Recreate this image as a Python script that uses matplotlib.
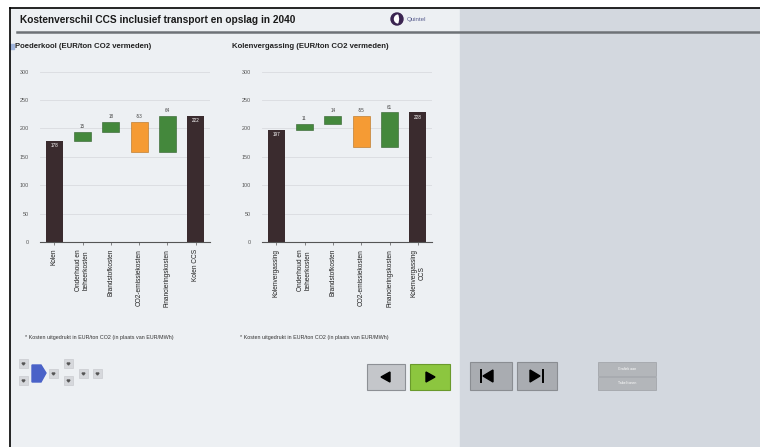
import numpy as np
import matplotlib.pyplot as plt
from matplotlib.patches import Rectangle, Polygon, Circle, Wedge

W, H = 760, 447

# chart data (EUR/ton CO2 vermeden)
pk_cats = ['Kolen', 'Onderhoud en\nbeheerkosten', 'Brandstofkosten',
           'CO2-emissiekosten', 'Financieringskosten', 'Kolen CCS']
pk_start = 178
pk_steps = [15, 18, -53, 64]

kv_cats = ['Kolenvergassing', 'Onderhoud en\nbeheerkosten', 'Brandstofkosten',
           'CO2-emissiekosten', 'Financieringskosten', 'Kolenvergassing\nCCS']
kv_start = 197
kv_steps = [11, 14, -55, 61]

y_ticks = [0, 50, 100, 150, 200, 250, 300]

title = 'Kostenverschil CCS inclusief transport en opslag in 2040'
sub_left = 'Poederkool (EUR/ton CO2 vermeden)'
sub_right = 'Kolenvergassing (EUR/ton CO2 vermeden)'
note = '* Kosten uitgedrukt in EUR/ton CO2 (in plaats van EUR/MWh)'

plt.rcParams['font.family'] = ['Liberation Sans', 'DejaVu Sans']

dark = '#3a2b2e'
green = '#44883c'
orange = '#f59b34'
panel = '#edf0f3'
side = '#d3d8df'

fig = plt.figure(figsize=(W / 100, H / 100), dpi=100)
fig.patch.set_facecolor('white')

# background / UI frame in pixel coordinates
bg = fig.add_axes([0, 0, 1, 1])
bg.set_xlim(0, W)
bg.set_ylim(H, 0)
bg.axis('off')
bg.add_patch(Rectangle((10, 8), 450, H - 8, color=panel, zorder=0))
bg.add_patch(Rectangle((460, 8), W - 460, H - 8, color=side, zorder=0))
bg.plot([10, 10], [8, H], color='black', lw=1.2)
bg.plot([10, W], [8, 8], color='black', lw=1.2)
bg.plot([17, W], [32, 32], color='#6e7277', lw=1.8)

bg.text(20, 20, title, fontsize=7.3, fontweight='bold', va='center', color='#1a1a1a')
bg.add_patch(Circle((397, 19), 6, color='#3a2450'))
bg.add_patch(Wedge((398.5, 19), 4, 100, 260, color='white'))
bg.text(407, 19, 'Quintel', fontsize=4.5, color='#5b6090', va='center')

bg.add_patch(Rectangle((10, 44), 4, 5, color='#9fb4dc'))
bg.text(15, 46.5, sub_left, fontsize=5.6, fontweight='bold', va='center', color='#222')
bg.text(232, 46.5, sub_right, fontsize=5.6, fontweight='bold', va='center', color='#222')
bg.text(25, 338, note, fontsize=3.9, va='center', color='#333')
bg.text(240, 338, note, fontsize=3.9, va='center', color='#333')

# small navigation buttons bottom-left
for bx, by in [(19, 359), (19, 376), (49, 369), (64, 359), (64, 376), (79, 369), (93, 369)]:
    bg.add_patch(Rectangle((bx, by), 9, 9, color='#d6d8dc', ec='#c4c6ca', lw=0.4))
    bg.add_patch(Polygon([(bx + 3, by + 4), (bx + 6, by + 4), (bx + 4.5, by + 6)], color='#555'))
bg.add_patch(Polygon([(32, 365), (41, 365), (46, 373), (41, 382), (32, 382)], color='#4a62c8'))

# prev / next buttons
bg.add_patch(Rectangle((367, 364), 38, 26, color='#c4c6ca', ec='#8d9095', lw=0.8))
bg.add_patch(Polygon([(381, 377), (390, 372), (390, 382)], color='black'))
bg.add_patch(Rectangle((410, 364), 40, 26, color='#8cc63f', ec='#6a9a2c', lw=0.8))
bg.add_patch(Polygon([(426, 372), (426, 382), (435, 377)], color='black'))

# right panel buttons
bg.add_patch(Rectangle((470, 362), 42, 28, color='#a9acb1', ec='#8a8d92', lw=0.8))
bg.add_patch(Polygon([(483, 376), (493, 370), (493, 382)], color='black'))
bg.plot([481, 481], [370, 382], color='black', lw=1.4)
bg.add_patch(Rectangle((517, 362), 40, 28, color='#a9acb1', ec='#8a8d92', lw=0.8))
bg.add_patch(Polygon([(530, 370), (530, 382), (540, 376)], color='black'))
bg.plot([543, 543], [370, 382], color='black', lw=1.4)
bg.add_patch(Rectangle((598, 362), 58, 14, color='#b3b6ba', ec='#9da0a5', lw=0.5))
bg.add_patch(Rectangle((598, 377), 58, 13, color='#b3b6ba', ec='#9da0a5', lw=0.5))
bg.text(627, 369, 'Grafiek aan', fontsize=2.5, color='white', ha='center', va='center')
bg.text(627, 383.5, 'Tabel tonen', fontsize=2.5, color='white', ha='center', va='center')


def px_axes(x0, y0, x1, y1):
    return fig.add_axes([x0 / W, 1 - y1 / H, (x1 - x0) / W, (y1 - y0) / H])


def waterfall(ax, cats, start, steps):
    x = np.arange(len(cats))
    end = start + sum(steps)
    ax.set_facecolor('none')
    for s in ['top', 'right', 'left']:
        ax.spines[s].set_visible(False)
    ax.spines['bottom'].set_color('#555')
    ax.spines['bottom'].set_linewidth(0.8)
    ax.set_ylim(0, 300)
    ax.set_xlim(-0.5, len(cats) - 0.5)
    ax.set_yticks(y_ticks)
    ax.set_yticklabels([str(t) for t in y_ticks])
    ax.tick_params(axis='y', length=0, pad=8, labelsize=3.9, labelcolor='#555')
    ax.tick_params(axis='x', length=2, width=0.5, color='#555', pad=3)
    ax.grid(axis='y', color='#d9dbdf', lw=0.6)
    ax.set_axisbelow(True)
    ax.set_xticks(x)
    ax.set_xticklabels(cats, rotation=90, fontsize=4.7, color='#1e1e1e', va='top', ha='center')

    ax.bar(x[0], start, width=0.6, color=dark)
    ax.text(x[0], start - 4, str(start), color='white', ha='center', va='top', fontsize=3.3)
    level = start
    for i, d in enumerate(steps):
        c = orange if d < 0 else green
        ax.bar(x[i + 1], d, bottom=level, width=0.6, color=c,
               edgecolor='#2f5f2a' if d > 0 else '#b36d1c', lw=0.4)
        top = max(level, level + d)
        ax.text(x[i + 1], top + 5, str(d), ha='center', va='bottom', fontsize=3.3, color='#444')
        level += d
    ax.bar(x[-1], end, width=0.6, color=dark)
    ax.text(x[-1], end - 4, str(end), color='white', ha='center', va='top', fontsize=3.3)


ax1 = px_axes(40, 71.5, 210, 242)
waterfall(ax1, pk_cats, pk_start, pk_steps)
ax2 = px_axes(262, 71.5, 432, 242)
waterfall(ax2, kv_cats, kv_start, kv_steps)

fig.savefig('out.png', dpi=100)
